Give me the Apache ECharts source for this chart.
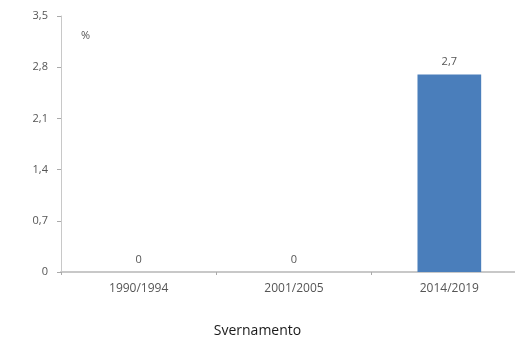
<!DOCTYPE html>
<html>
<head>
<meta charset="utf-8">
<script src="https://cdn.jsdelivr.net/npm/echarts@6/dist/echarts.min.js"></script>
<style>
  html, body { margin: 0; padding: 0; background: #fff; }
  #chart { width: 515px; height: 342px; }
</style>
</head>
<body>
<div id="chart"></div>
<script>
// Periods and wintering percentages
const categories = ['1990/1994', '2001/2005', '2014/2019'];
const values = [0, 0, 2.7];
const yTicks = [0, 0.7, 1.4, 2.1, 2.8, 3.5];
const unitLabel = '%';
const title = 'Svernamento';

const fmt = v => String(v).replace('.', ',');
const labelGrey = '#555555';

const chart = echarts.init(document.getElementById('chart'), null, { renderer: 'canvas' });
chart.setOption({
  animation: false,
  backgroundColor: '#ffffff',
  textStyle: { fontFamily: 'Open Sans' },
  title: {
    text: title,
    left: 'center',
    top: 319,
    textStyle: { fontSize: 14, fontWeight: 'normal', color: '#1a1a1a', fontFamily: 'Open Sans' }
  },
  graphic: [{
    type: 'text',
    left: 81,
    top: 30,
    style: { text: unitLabel, fontSize: 11, fill: labelGrey, fontFamily: 'Open Sans' }
  }],
  grid: { left: 61, top: 16, width: 466, height: 256, containLabel: false, outerBoundsMode: 'none' },
  xAxis: {
    type: 'category',
    data: categories,
    axisLine: { lineStyle: { color: '#c8c8c8', width: 2 } },
    axisTick: { show: true, length: 3, lineStyle: { color: '#aaa' } },
    axisLabel: { color: labelGrey, fontSize: 12, margin: 11, fontFamily: 'Open Sans' }
  },
  yAxis: {
    type: 'value',
    min: yTicks[0],
    max: yTicks[yTicks.length - 1],
    interval: 0.7,
    axisLine: { show: true, lineStyle: { color: '#c8c8c8', width: 1 } },
    axisTick: { show: true, inside: false, length: 4, lineStyle: { color: '#aaa' } },
    splitLine: { show: false },
    axisLabel: {
      color: labelGrey, fontSize: 11, margin: 13, fontFamily: 'Open Sans',
      formatter: v => fmt(Math.round(v * 10) / 10)
    }
  },
  series: [{
    type: 'bar',
    data: values,
    barWidth: '41%',
    itemStyle: { color: '#4a7ebb' },
    label: {
      show: true,
      position: 'top',
      distance: 7,
      color: labelGrey,
      fontSize: 11,
      fontFamily: 'Open Sans',
      formatter: p => fmt(p.value)
    }
  }]
});
</script>
</body>
</html>
